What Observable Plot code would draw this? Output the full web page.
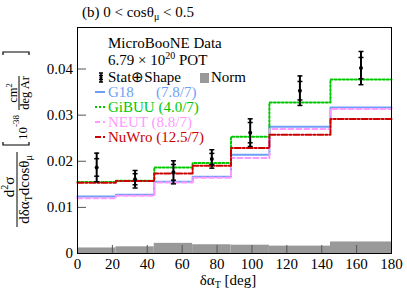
<!DOCTYPE html>
<html>
<head>
<meta charset="utf-8">
<script src="https://cdn.jsdelivr.net/npm/d3@7"></script>
<script src="https://cdn.jsdelivr.net/npm/@observablehq/plot@0.6"></script>
<style>
  html, body { margin: 0; padding: 0; background: #fff; }
  svg { display: block; }
</style>
</head>
<body>
<div id="chart"></div>
<script>
// ---- data ----
const binEdges = [0, 22, 44, 66, 88, 110, 145, 180];
const binCenters = [11, 33, 55, 77, 99, 127.5, 162.5];
const dataValues = [0.01866, 0.0161, 0.0176, 0.0205, 0.0262, 0.0353, 0.0402];
const dataErrTotal = [0.0031, 0.0019, 0.0025, 0.0020, 0.0030, 0.0032, 0.0036];
const dataErrStat = [0.0019, 0.0012, 0.0017, 0.0012, 0.0022, 0.0020, 0.0023];
const normUnc = [0.0012, 0.00145, 0.0022, 0.0019, 0.0018, 0.0016, 0.0025];
const g18 = [0.01237, 0.01273, 0.01555, 0.01664, 0.0214, 0.02748, 0.03167];
const gibuu = [0.01548, 0.01577, 0.01866, 0.0196, 0.0253, 0.03275, 0.03774];
const neut = [0.0120, 0.01252, 0.0154, 0.01642, 0.0207, 0.02698, 0.03132];
const nuwro = [0.01533, 0.0157, 0.01735, 0.019, 0.02286, 0.02575, 0.02915];
const xTicks = [0, 20, 40, 60, 80, 100, 120, 140, 160, 180];
const yTicks = [0, 0.01, 0.02, 0.03, 0.04];
const models = [
  {name: "G18", chi2: "(7.8/7)", values: g18, color: "#6f9ff5", dash: null},
  {name: "GiBUU", chi2: "(4.0/7)", values: gibuu, color: "#00c800", dash: "2,2"},
  {name: "NEUT", chi2: "(8.8/7)", values: neut, color: "#ff99ff", dash: "5,3"},
  {name: "NuWro", chi2: "(12.5/7)", values: nuwro, color: "#cc0000", dash: "6,2,2,2"}
];

// ---- derived tables ----
const stepPts = vals => binEdges.map((e, i) => ({x: e, y: vals[Math.min(i, vals.length - 1)]}));
const normBins = normUnc.map((n, i) => ({x1: binEdges[i], x2: binEdges[i + 1], y: n}));
const points = binCenters.map((x, i) => ({x, v: dataValues[i], et: dataErrTotal[i], es: dataErrStat[i]}));
const caps = points.flatMap(d => [d.v - d.et, d.v + d.et, d.v - d.es, d.v + d.es].map(y => ({x: d.x, y})));
const capSymbol = {draw(ctx, size) { const r = Math.sqrt(size / Math.PI); ctx.moveTo(-r, 0); ctx.lineTo(r, 0); }};

const svg = Plot.plot({
  width: 407,
  height: 295,
  marginLeft: 77,
  marginRight: 16,
  marginTop: 27,
  marginBottom: 42,
  style: {fontFamily: "Liberation Serif", fontSize: "15px", color: "black", background: "white"},
  x: {domain: [0, 180]},
  y: {domain: [0, 0.049]},
  marks: [
    Plot.rect(normBins, {x1: "x1", x2: "x2", y1: 0, y2: "y", fill: "#999999"}),
    ...models.map(m => Plot.line(stepPts(m.values), {x: "x", y: "y", curve: "step-after", stroke: m.color, strokeWidth: 2, strokeDasharray: m.dash})),
    Plot.ruleX(points, {x: "x", y1: d => d.v - d.et, y2: d => d.v + d.et, stroke: "black", strokeWidth: 2}),
    Plot.dot(caps, {x: "x", y: "y", r: 2.5, symbol: capSymbol, stroke: "black", strokeWidth: 1.5, fill: "none"}),
    Plot.dot(points, {x: "x", y: "v", r: 2, fill: "black"}),
    Plot.axisX({ticks: xTicks, tickSize: -8, tickPadding: 13, tickFormat: d => String(d), label: null, stroke: "#555"}),
    Plot.axisY({ticks: yTicks, tickSize: -9, tickPadding: 13.5, tickFormat: d => d === 0 ? "0" : d.toFixed(2), label: null, stroke: "#555"}),
    Plot.frame({stroke: "black"})
  ]
});

const s = d3.select(svg);
const font = "Liberation Serif";

// title
const t = s.append("text").attr("x", 82).attr("y", 17).attr("text-anchor", "start").attr("font-family", font).attr("font-size", 15).attr("fill", "black");
t.append("tspan").text("(b) 0 < cosθ");
t.append("tspan").attr("font-size", 10).attr("dy", 3).text("μ");
t.append("tspan").attr("dy", -3).text(" < 0.5");

// x label
const xl = s.append("text").attr("x", 228).attr("y", 285).attr("text-anchor", "middle").attr("font-family", font).attr("font-size", 15).attr("fill", "black");
xl.append("tspan").text("δα");
xl.append("tspan").attr("font-size", 10).attr("dy", 3).text("T");
xl.append("tspan").attr("dy", -3).text(" [deg]");

// y label (rotated)
const g = s.append("g").attr("transform", "translate(0,140) rotate(-90)").attr("font-family", font).attr("fill", "black");
g.append("line").attr("x1", -87).attr("x2", -12).attr("y1", 17).attr("y2", 17).attr("stroke", "black").attr("stroke-width", 1);
const num = g.append("text").attr("x", -47).attr("y", 14).attr("text-anchor", "middle").attr("font-size", 15);
num.append("tspan").text("d");
num.append("tspan").attr("font-size", 10).attr("dy", -6).text("2");
num.append("tspan").attr("dy", 6).text("σ");
const den = g.append("text").attr("x", -49.5).attr("y", 29).attr("text-anchor", "middle").attr("font-size", 15);
den.append("tspan").text("dδα");
den.append("tspan").attr("font-size", 10).attr("dy", 3).text("T");
den.append("tspan").attr("dy", -3).text("dcosθ");
den.append("tspan").attr("font-size", 10).attr("dy", 3).text("μ");
g.append("path").attr("d", "M-2,3H-5V29H-2").attr("fill", "none").attr("stroke", "black").attr("stroke-width", 1.2);
const ten = g.append("text").attr("x", 0).attr("y", 27).attr("text-anchor", "start").attr("font-size", 13);
ten.append("tspan").text("10");
ten.append("tspan").attr("font-size", 9).attr("dy", -8).text("-38");
g.append("line").attr("x1", 30).attr("x2", 64).attr("y1", 19).attr("y2", 19).attr("stroke", "black").attr("stroke-width", 1);
const cm = g.append("text").attr("x", 47).attr("y", 16.5).attr("text-anchor", "middle").attr("font-size", 12.5);
cm.append("tspan").text("cm");
cm.append("tspan").attr("font-size", 8.5).attr("dy", -4.5).text("2");
g.append("text").attr("x", 47).attr("y", 28.5).attr("text-anchor", "middle").attr("font-size", 12.5).text("deg Ar");
g.append("path").attr("d", "M85,3H88V29H85").attr("fill", "none").attr("stroke", "black").attr("stroke-width", 1.2);

// legend
const L = s.append("g").attr("font-family", font).attr("font-size", 15).attr("text-anchor", "start");
L.append("text").attr("x", 108).attr("y", 48).attr("fill", "black").text("MicroBooNE Data");
const pot = L.append("text").attr("x", 108).attr("y", 65).attr("fill", "black");
pot.append("tspan").text("6.79 × 10");
pot.append("tspan").attr("font-size", 10).attr("dy", -6).text("20");
pot.append("tspan").attr("dy", 6).text(" POT");
// stat ⊕ shape symbol
L.append("path").attr("d", "M101,73V82M99,73H103M99,82H103M99,75.5H103M99,79.5H103").attr("fill", "none").attr("stroke", "black").attr("stroke-width", 1.5);
L.append("circle").attr("cx", 101).attr("cy", 77.5).attr("r", 1.5).attr("fill", "black");
L.append("text").attr("x", 108).attr("y", 82).attr("fill", "black").text("Stat⊕Shape");
L.append("rect").attr("x", 200).attr("y", 73).attr("width", 9).attr("height", 10).attr("fill", "#999999");
L.append("text").attr("x", 211).attr("y", 82).attr("fill", "black").text("Norm");
models.forEach((m, i) => {
  const yb = 97 + i * 15;
  L.append("line").attr("x1", 95).attr("x2", 105).attr("y1", yb - 5).attr("y2", yb - 5)
    .attr("stroke", m.color).attr("stroke-width", 2).attr("stroke-dasharray", m.dash);
  if (m.name === "G18") {
    L.append("text").attr("x", 108).attr("y", yb).attr("fill", m.color).text(m.name);
    L.append("text").attr("x", 156).attr("y", yb).attr("fill", m.color).text(m.chi2);
  } else {
    L.append("text").attr("x", 108).attr("y", yb).attr("fill", m.color).text(m.name + " " + m.chi2);
  }
});

document.getElementById("chart").appendChild(svg);
</script>
</body>
</html>
